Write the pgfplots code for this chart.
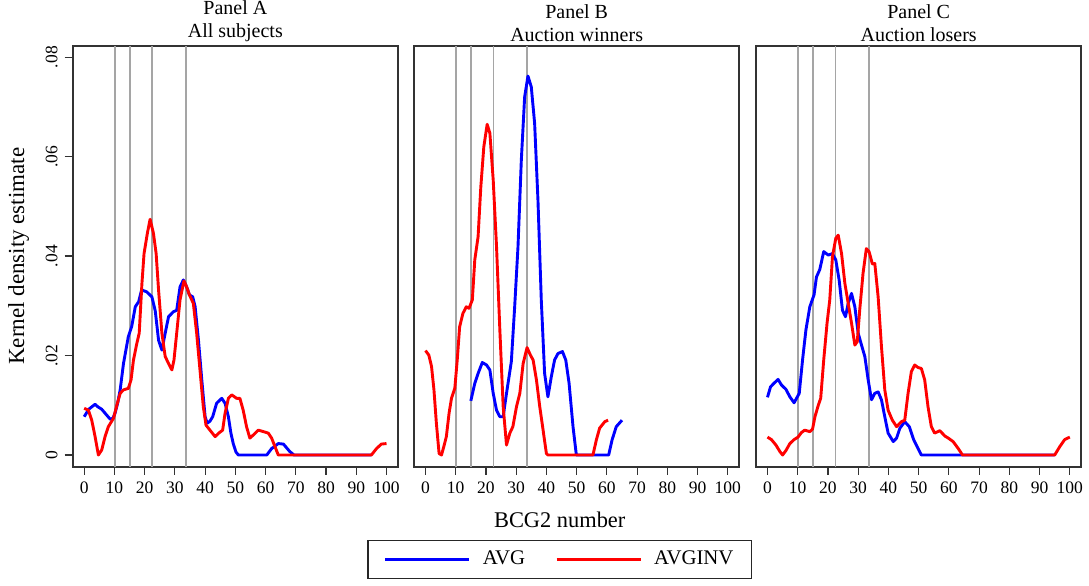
\documentclass[border=0pt]{standalone}
\usepackage{fontspec}
\setmainfont{Liberation Serif}
\usepackage{pgfplots}
\pgfplotsset{compat=1.18}
\usepackage{pgfplotstable}

\definecolor{gvl}{RGB}{165,165,165}
\definecolor{cblue}{RGB}{0,0,255}
\definecolor{cred}{RGB}{255,0,0}

\pgfplotstableread{
x y
0 0.0077
1.5 0.0092
3.6 0.0102
4.5 0.0097
5.8 0.0092
7.2 0.0082
8.6 0.0072
9.5 0.0074
10.2 0.0084
11.1 0.0105
11.9 0.0131
13.0 0.0184
14.6 0.0238
15.7 0.0258
16.9 0.0298
18.0 0.0308
19.0 0.0332
20.7 0.0328
22.4 0.0318
23.5 0.0290
24.6 0.0231
25.7 0.0211
26.8 0.0245
27.9 0.0278
29.5 0.0288
30.6 0.0291
31.7 0.0338
32.8 0.0352
33.9 0.0338
34.8 0.0322
35.9 0.0318
36.7 0.0298
37.8 0.0231
38.9 0.0151
40.0 0.0077
40.7 0.0064
41.6 0.0068
42.5 0.0077
43.8 0.0104
45.5 0.0114
46.6 0.0104
47.7 0.0077
48.5 0.0045
49.3 0.0023
50.2 0.0006
51.0 0
60.4 0
62.0 0.0013
64.2 0.0023
65.9 0.0022
68.0 0.0007
69.4 0
95 0
}\Ablue

\pgfplotstableread{
x y
0 0.0094
1.4 0.0090
2.5 0.0070
3.6 0.0037
4.7 0
5.8 0.0010
6.9 0.0037
8.0 0.0057
9.7 0.0074
10.8 0.0100
11.9 0.0124
13.0 0.0131
14.6 0.0134
15.5 0.0151
16.3 0.0191
17.4 0.0224
18.2 0.0245
19.1 0.0345
19.8 0.0405
20.9 0.0446
21.8 0.0474
22.9 0.0446
23.8 0.0405
24.6 0.0332
25.7 0.0245
26.8 0.0198
27.9 0.0184
29.0 0.0171
29.7 0.0191
30.6 0.0245
31.7 0.0312
33.0 0.0350
33.9 0.0338
34.8 0.0322
36.1 0.0305
37.2 0.0245
38.3 0.0171
39.4 0.0097
40.3 0.0060
41.6 0.0050
43.3 0.0037
44.7 0.0045
45.8 0.0050
46.6 0.0084
47.7 0.0114
48.8 0.0121
50.4 0.0114
51.5 0.0114
52.6 0.0090
53.7 0.0057
54.8 0.0034
55.9 0.0040
57.6 0.0050
59.3 0.0047
60.9 0.0044
62.0 0.0034
63.1 0.0017
64.2 0
95.0 0
96.7 0.0013
98.3 0.0022
100 0.0023
}\Ared

\pgfplotstableread{
x y
15.0 0.0109
16.3 0.0144
17.4 0.0164
18.8 0.0186
20.2 0.0181
21.3 0.0171
22.4 0.0124
23.5 0.0090
24.6 0.0077
25.7 0.0077
26.8 0.0124
28.4 0.0188
29.5 0.0298
30.6 0.0419
31.7 0.0593
32.8 0.0720
33.9 0.0762
35.0 0.0740
36.1 0.0667
37.2 0.0513
38.3 0.0312
39.4 0.0164
40.5 0.0117
41.6 0.0157
42.7 0.0191
43.8 0.0204
45.3 0.0208
46.4 0.0191
47.5 0.0144
48.8 0.0057
49.9 0
60.6 0
61.7 0.0030
63.1 0.0057
65.0 0.0070
}\Bblue

\pgfplotstableread{
x y
0 0.0210
1.1 0.0201
2.0 0.0178
2.8 0.0131
3.6 0.0064
4.5 0.0003
5.3 0
6.2 0.0020
6.9 0.0037
7.8 0.0084
8.6 0.0114
9.7 0.0134
10.5 0.0191
11.3 0.0258
12.4 0.0285
13.5 0.0298
14.4 0.0295
15.5 0.0312
16.3 0.0392
17.4 0.0439
18.3 0.0539
19.3 0.0620
20.4 0.0665
21.3 0.0647
22.4 0.0553
23.5 0.0419
24.6 0.0251
25.7 0.0097
26.8 0.0020
27.9 0.0044
28.9 0.0057
30.1 0.0097
31.2 0.0124
32.3 0.0184
33.6 0.0216
34.7 0.0201
35.6 0.0191
36.7 0.0151
37.8 0.0097
38.9 0.0050
40.0 0.0003
40.5 0
55.4 0
56.5 0.0030
57.6 0.0054
59.3 0.0067
60.4 0.0070
}\Bred

\pgfplotstableread{
x y
0 0.0116
1.0 0.0137
2.1 0.0144
3.5 0.0152
4.6 0.0141
6.1 0.0132
7.4 0.0117
8.8 0.0105
10.5 0.0124
11.6 0.0191
12.7 0.0251
14.0 0.0298
15.4 0.0322
16.2 0.0358
17.3 0.0373
18.6 0.0409
20.1 0.0402
21.5 0.0405
22.6 0.0392
23.7 0.0352
24.8 0.0291
25.8 0.0278
26.7 0.0305
27.8 0.0325
28.9 0.0298
30.0 0.0245
31.1 0.0221
32.2 0.0198
33.3 0.0151
34.4 0.0111
35.5 0.0124
36.6 0.0127
37.7 0.0111
38.8 0.0077
39.9 0.0044
41.6 0.0027
42.7 0.0034
43.8 0.0054
45.4 0.0067
46.9 0.0057
48.4 0.0030
49.8 0.0013
50.9 0
95 0
}\Cblue

\pgfplotstableread{
x y
0 0.0036
1.3 0.0031
2.8 0.0020
4.1 0.0007
5.0 0
6.1 0.0009
7.4 0.0023
8.8 0.0031
10.1 0.0036
11.2 0.0045
12.3 0.0050
14.0 0.0047
14.9 0.0052
15.7 0.0077
16.8 0.0100
17.6 0.0114
18.6 0.0191
19.7 0.0265
20.6 0.0312
21.5 0.0399
22.6 0.0436
23.4 0.0442
24.5 0.0405
25.6 0.0345
26.7 0.0305
27.8 0.0265
28.9 0.0221
29.7 0.0228
30.5 0.0291
31.6 0.0365
32.7 0.0415
33.6 0.0409
34.7 0.0384
35.5 0.0385
36.6 0.0318
37.7 0.0218
38.8 0.0131
39.9 0.0090
41.3 0.0070
42.7 0.0057
44.3 0.0067
45.4 0.0070
46.5 0.0124
47.6 0.0168
48.7 0.0181
49.8 0.0176
50.9 0.0174
52.0 0.0151
53.1 0.0097
54.2 0.0057
55.3 0.0044
57.0 0.0049
58.7 0.0038
59.8 0.0034
61.4 0.0027
63.1 0.0013
64.5 0
95.0 0
96.7 0.0017
98.3 0.0031
100 0.0036
}\Cred

\pgfplotsset{
  panel/.style={
    scale only axis, width=162.65pt, height=210.5pt,
    anchor=south west,
    xmin=-3.8, xmax=103.8, ymin=-0.00235, ymax=0.0823,
    xtick={0,10,...,100},
    scaled y ticks=false,
    tick align=outside, major tick length=4pt,
    xtick pos=left, ytick pos=left,
    axis line style={black!80, line width=0.9pt},
    every tick/.style={black!80, line width=0.6pt},
    ticklabel style={font=\fontsize{8.75}{10}\selectfont},
    /pgf/number format/assume math mode=true,
    extra x ticks={10.1,15.08,22.51,33.6},
    extra x tick labels={},
    extra x tick style={grid=major, major grid style={gvl, line width=0.85pt}, major tick length=0pt},
    title style={font=\fontsize{10}{10}\selectfont, align=center, at={(0.5,1)}, anchor=south, inner sep=0pt, yshift=-4.2pt},
    clip=false,
  },
  blueline/.style={cblue, line width=1.45pt, line join=round},
  redline/.style={cred, line width=1.45pt, line join=round},
}

\begin{document}
\begin{tikzpicture}
\useasboundingbox (0,0) rectangle (544.5pt,292.5pt);

\begin{axis}[panel, at={(36.35pt,59.15pt)},
  title={Panel A\\[1.5pt]All subjects},
  ytick={0,0.02,0.04,0.06,0.08},
  yticklabels={0,.02,.04,.06,.08},
  yticklabel style={rotate=90, anchor=south},
  ylabel={Kernel density estimate},
  ylabel style={at={(axis description cs:-0.166,0.5)}, anchor=center, font=\fontsize{11.5}{13}\selectfont},
]
\addplot[blueline] table[x=x,y=y] {\Ablue};
\addplot[redline] table[x=x,y=y] {\Ared};
\end{axis}

\begin{axis}[panel, at={(207pt,59.15pt)},
  title={Panel B\\[1.5pt]Auction winners},
  ytick=\empty,
  xlabel={BCG2 number},
  xlabel style={at={(axis description cs:0.448,-0.127)}, anchor=center, font=\fontsize{11.2}{12}\selectfont},
  legend columns=2,
  legend image code/.code={\draw[#1] (0pt,0pt) -- (42pt,0pt);},
  legend style={at={(axis description cs:0.448,-0.2204)}, anchor=center, draw=black!85, line width=0.6pt,
    font=\fontsize{10.4}{12}\selectfont, inner xsep=8pt, inner ysep=4.5pt,
    nodes={inner sep=1pt},
    /tikz/every even column/.append style={column sep=14pt},
    /tikz/every odd column/.append style={column sep=5pt}},
]
\addplot[blueline] table[x=x,y=y] {\Bblue};
\addlegendentry{AVG}
\addplot[redline] table[x=x,y=y] {\Bred};
\addlegendentry{AVGINV}
\end{axis}

\begin{axis}[panel, at={(378pt,59.15pt)},
  title={Panel C\\[1.5pt]Auction losers},
  ytick=\empty,
]
\addplot[blueline] table[x=x,y=y] {\Cblue};
\addplot[redline] table[x=x,y=y] {\Cred};
\end{axis}
\end{tikzpicture}
\end{document}
